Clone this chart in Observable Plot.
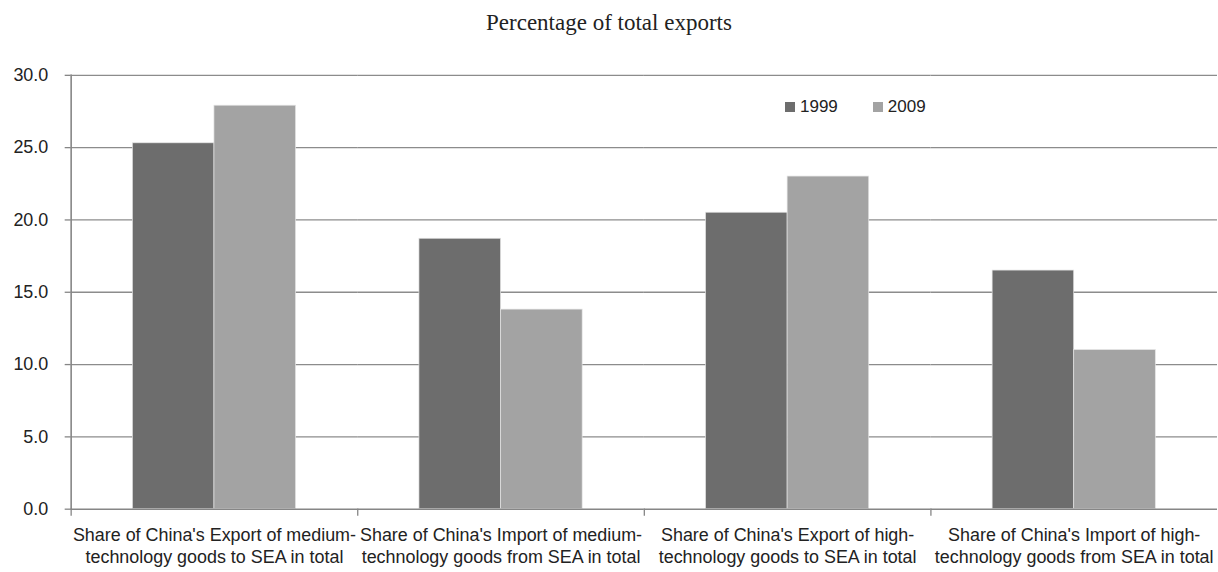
<!DOCTYPE html>
<html>
<head>
<meta charset="utf-8">
<script src="https://cdn.jsdelivr.net/npm/d3@7"></script>
<script src="https://cdn.jsdelivr.net/npm/@observablehq/plot@0.6"></script>
<style>
  html, body { margin: 0; padding: 0; background: #fff; overflow: hidden; }
  #wrap { position: relative; width: 1218px; height: 572px; overflow: hidden; }
  #title { height: 40px; line-height: 46px; text-align: center; font-family: "Liberation Serif", "Times New Roman", serif; font-size: 23px; color: #222; overflow: visible; white-space: nowrap; }
  #legend { position: absolute; top: 97px; left: 785px; font-family: "Liberation Sans", Arial, sans-serif; font-size: 17px; color: #222; display: flex; align-items: center; }
  #legend .sw { display: inline-block; width: 10px; height: 10px; margin-right: 5px; }
  #legend .item { display: flex; align-items: center; margin-right: 35px; }
</style>
</head>
<body>
<div id="wrap">
  <div id="title">Percentage of total exports</div>
  <div id="chart"></div>
  <div id="legend"></div>
</div>
<script>
const categories = [
  "Share of China's Export of medium-\ntechnology goods to SEA in total",
  "Share of China's Import of medium-\ntechnology goods from SEA in total",
  "Share of China's Export of high-\ntechnology goods to SEA in total",
  "Share of China's Import of high-\ntechnology goods from SEA in total"
];
const years = ["1999", "2009"];
const values1999 = [25.3, 18.7, 20.5, 16.5];
const values2009 = [27.9, 13.8, 23.0, 11.0];
const yTicks = [0, 5, 10, 15, 20, 25, 30];
const colors = ["#6d6d6d", "#a3a3a3"];

const data = categories.flatMap((c, i) => [
  {category: c, year: years[0], value: values1999[i]},
  {category: c, year: years[1], value: values2009[i]}
]);

const chart = Plot.plot({
  width: 1224,
  height: 532,
  marginTop: 35,
  marginBottom: 61,
  marginLeft: 71,
  marginRight: 1,
  style: {fontFamily: "'Liberation Sans', Arial, sans-serif", fontSize: "18px", color: "#222", background: "transparent", overflow: "visible"},
  fx: {domain: categories, padding: 0, label: null},
  x: {domain: years, paddingInner: 0, paddingOuter: 0.756, axis: null},
  y: {domain: [0, 30], label: null},
  color: {domain: years, range: colors},
  marks: [
    Plot.ruleY(yTicks.slice(1), {stroke: "#8c8c8c", strokeWidth: 1.3}),
    Plot.barY(data, {fx: "category", x: "year", y: "value", fill: "year", stroke: "#e4e4e4", strokeWidth: 0.7}),
    Plot.ruleY([0], {stroke: "#868686", strokeWidth: 1.6}),
    Plot.frame({anchor: "left", facetAnchor: "left", stroke: "#868686", strokeWidth: 1.6}),
    Plot.frame({anchor: "left", stroke: "#868686", strokeWidth: 1.3, insetTop: 436, insetBottom: -6}),
    Plot.axisY({ticks: yTicks, tickFormat: d => d.toFixed(1), tickSize: 6, tickPadding: 17, stroke: "#868686", strokeWidth: 1.3, strokeOpacity: 1, fontSize: 18, fill: "#222"}),
    Plot.axisFx({anchor: "bottom", tickSize: 0, tickPadding: 17, lineHeight: 1.2, fontSize: 18, fill: "#222", label: null, lineWidth: 100})
  ]
});
document.getElementById("chart").appendChild(chart);

const legend = document.getElementById("legend");
years.forEach((y, i) => {
  const item = document.createElement("div");
  item.className = "item";
  const sw = document.createElement("span");
  sw.className = "sw";
  sw.style.background = colors[i];
  item.appendChild(sw);
  item.appendChild(document.createTextNode(y));
  legend.appendChild(item);
});
</script>
</body>
</html>
